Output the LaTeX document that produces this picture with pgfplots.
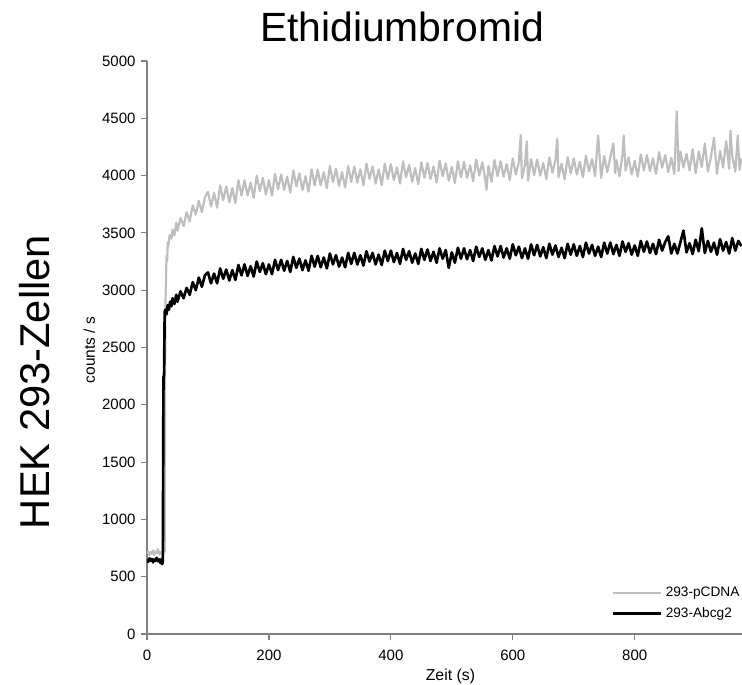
\documentclass[border=0pt]{standalone}
\usepackage{pgfplots}
\pgfplotsset{compat=1.18}
\usepackage{fontspec}
\setmainfont{Liberation Sans}

\definecolor{pcdna}{RGB}{190,190,190}
\definecolor{axisgray}{RGB}{128,128,128}

\begin{document}
\begin{tikzpicture}
\begin{axis}[
    at={(0,0)}, anchor=south west,
    scale only axis,
    width=357pt, height=343.8pt,
    xmin=0, xmax=976,
    ymin=0, ymax=5000,
    axis x line=bottom,
    axis y line=left,
    axis line style={-, draw=axisgray, line width=0.7pt},
    xtick={0,200,400,600,800},
    ytick={0,500,...,5000},
    tick align=outside,
    major tick length=3.4pt,
    tick style={draw=axisgray, line width=0.7pt},
    tick label style={font=\fontsize{9}{10}\selectfont},
    xticklabel style={yshift=-2.4pt},
    /pgf/number format/assume math mode=true,
    /pgf/number format/set thousands separator={},
    scaled ticks=false,
    xlabel={Zeit (s)},
    xlabel style={font=\fontsize{9.5}{11}\selectfont, at={(axis description cs:0.51,0)}, anchor=base, yshift=-27.6pt},
    ylabel={counts / s},
    ylabel style={font=\fontsize{9.3}{10}\selectfont, at={(axis description cs:-0.0874,0.4956)}, anchor=base},
    legend style={draw=none, fill=none, at={(0.78,0.018)}, anchor=south west,
        font=\fontsize{8.2}{9}\selectfont, row sep=1pt, inner sep=0pt},
    legend cell align=left,
    legend image code/.code={\draw[#1] (0pt,0pt) -- (29pt,0pt);},
    line join=round,
]
\addplot[color=pcdna, line width=1.3pt] coordinates {
(0,700) (2,720) (4,690) (6,715) (8,700) (10,730) (12,690) (14,720) (16,705) (18,740)
(20,695) (22,715) (24,700) (26,725) (28,710) (29,720) (30,2800) (31,3050) (32,3300) (33,3250)
(34,3420) (35,3380) (37,3480) (40,3450) (42,3530) (45,3480) (48,3590) (50,3520)
(55,3630) (60,3560) (65,3680) (70,3600) (75,3740) (80,3660) (85,3780) (90,3680) (95,3810)
(100,3860) (105,3730) (110,3850) (115,3720) (120,3915) (125,3785) (130,3905) (135,3765) (140,3890) (145,3760)
(150,3960) (155,3825) (160,3960) (165,3825) (170,3940) (175,3805) (180,4000) (185,3865) (190,3980) (195,3835)
(200,3960) (205,3825) (210,4015) (215,3880) (220,4010) (225,3875) (230,3990) (235,3850) (240,4045) (245,3905)
(250,4020) (255,3875) (260,3995) (265,3860) (270,4055) (275,3915) (280,4050) (285,3915) (290,4030) (295,3890)
(300,4085) (305,3945) (310,4060) (315,3910) (320,4030) (325,3895) (330,4085) (335,3945) (340,4080) (345,3940)
(350,4055) (355,3915) (360,4105) (365,3970) (370,4080) (375,3930) (380,4055) (385,3915) (390,4105) (395,3970)
(400,4100) (405,3960) (410,4070) (415,3930) (420,4125) (425,3985) (430,4095) (435,3945) (440,4065) (445,3925)
(450,4115) (455,3980) (460,4110) (465,3970) (470,4080) (475,3940) (480,4130) (485,3995) (490,4105) (495,3955)
(500,4075) (505,3935) (510,4125) (515,3985) (520,4120) (525,3980) (530,4090) (535,3950) (540,4140) (545,4000)
(550,4115) (555,3965) (557,3875) (560,4085) (565,3945) (570,4135) (575,3995) (580,4125) (585,3990) (590,4100)
(595,3960) (600,4150) (605,4010) (610,4120) (613,4355) (615,3975) (620,4095) (623,4300) (625,3955) (630,4145)
(635,4005) (640,4140) (645,4000) (650,4110) (655,3970) (660,4160) (665,4025) (670,4135) (673,4320) (675,3985)
(680,4105) (685,3965) (690,4160) (695,4020) (700,4150) (705,4010) (710,4120) (715,3985) (720,4175) (725,4035)
(730,4145) (735,3995) (740,4350) (745,3980) (750,4170) (755,4030) (760,4160) (765,4280) (768,4020) (770,4135)
(775,3995) (780,4185) (782,4350) (785,4045) (790,4160) (795,4010) (800,4130) (805,3990) (810,4185) (815,4045)
(820,4180) (825,4040) (830,4150) (835,4015) (840,4205) (845,4070) (850,4180) (855,4030) (860,4155) (865,4015)
(869,4560) (872,4040) (875,4210) (880,4070) (885,4190) (890,4045) (895,4230) (900,4020) (905,4210) (910,4075)
(915,4280) (920,4035) (925,4160) (930,4330) (935,4015) (940,4215) (945,4070) (950,4300) (955,4060) (957,4390)
(960,4170) (965,4035) (969,4350) (972,4050) (975,4150)
};
\addlegendentry{293-pCDNA}
\addplot[color=black, line width=1.6pt] coordinates {
(0,650) (2,630) (4,660) (6,640) (8,655) (10,625) (12,650) (14,640) (16,665) (18,635)
(20,650) (22,620) (24,655) (25,610) (26,630) (27,2240) (28,2260) (29,2810) (30,2830) (32,2790)
(34,2870) (36,2830) (38,2900) (40,2860) (42,2930) (45,2880) (48,2960) (50,2900)
(55,2990) (60,2930) (65,3020) (70,2960) (75,3070) (80,3000) (85,3110) (90,3030) (95,3130)
(100,3155) (105,3060) (110,3145) (115,3060) (120,3190) (125,3100) (130,3180) (135,3085) (140,3175) (145,3090)
(150,3220) (155,3130) (160,3225) (165,3125) (170,3210) (175,3120) (180,3250) (185,3160) (190,3235) (195,3140)
(200,3225) (205,3140) (210,3265) (215,3175) (220,3265) (225,3170) (230,3255) (235,3160) (240,3290) (245,3195)
(250,3275) (255,3175) (260,3260) (265,3170) (270,3300) (275,3205) (280,3300) (285,3200) (290,3285) (295,3190)
(300,3320) (305,3225) (310,3305) (315,3205) (320,3285) (325,3200) (330,3325) (335,3230) (340,3325) (345,3225)
(350,3305) (355,3215) (360,3340) (365,3250) (370,3325) (375,3225) (380,3310) (385,3220) (390,3345) (395,3255)
(400,3345) (405,3245) (410,3325) (415,3230) (420,3360) (425,3265) (430,3340) (435,3240) (440,3320) (445,3230)
(450,3360) (455,3265) (460,3355) (465,3255) (470,3335) (475,3240) (480,3365) (485,3275) (490,3350) (495,3195)
(500,3330) (505,3240) (510,3370) (515,3275) (520,3365) (525,3270) (530,3350) (535,3255) (540,3380) (545,3290)
(550,3365) (555,3265) (560,3350) (565,3260) (570,3385) (575,3295) (580,3385) (585,3285) (590,3365) (595,3275)
(600,3400) (605,3305) (610,3380) (615,3280) (620,3365) (625,3275) (630,3400) (635,3305) (640,3395) (645,3295)
(650,3375) (655,3280) (660,3405) (665,3310) (670,3390) (675,3290) (680,3370) (685,3280) (690,3405) (695,3310)
(700,3400) (705,3300) (710,3385) (715,3290) (720,3415) (725,3320) (730,3395) (735,3300) (740,3380) (745,3290)
(750,3415) (755,3320) (760,3415) (765,3315) (770,3395) (775,3300) (780,3425) (785,3335) (790,3410) (795,3310)
(800,3390) (805,3300) (810,3430) (815,3335) (820,3425) (825,3325) (830,3405) (835,3315) (840,3440) (845,3345)
(850,3420) (855,3470) (860,3320) (865,3405) (870,3320) (875,3420) (880,3520) (885,3330) (890,3410) (895,3315)
(900,3440) (905,3340) (910,3540) (915,3325) (920,3430) (925,3335) (930,3415) (935,3310) (940,3445) (945,3345)
(950,3420) (955,3320) (960,3455) (965,3345) (970,3430) (975,3385)
};
\addlegendentry{293-Abcg2}
\end{axis}
\node[anchor=base, font=\fontsize{24.5}{28}\selectfont] at (153pt,355.2pt) {Ethidiumbromid};
\node[anchor=base, rotate=90, font=\fontsize{25}{28}\selectfont] at (-58.2pt,151.2pt) {HEK 293-Zellen};
\pgfresetboundingbox
\path (-88.2pt,-30pt) rectangle (357pt,380.4pt);
\end{tikzpicture}
\end{document}
